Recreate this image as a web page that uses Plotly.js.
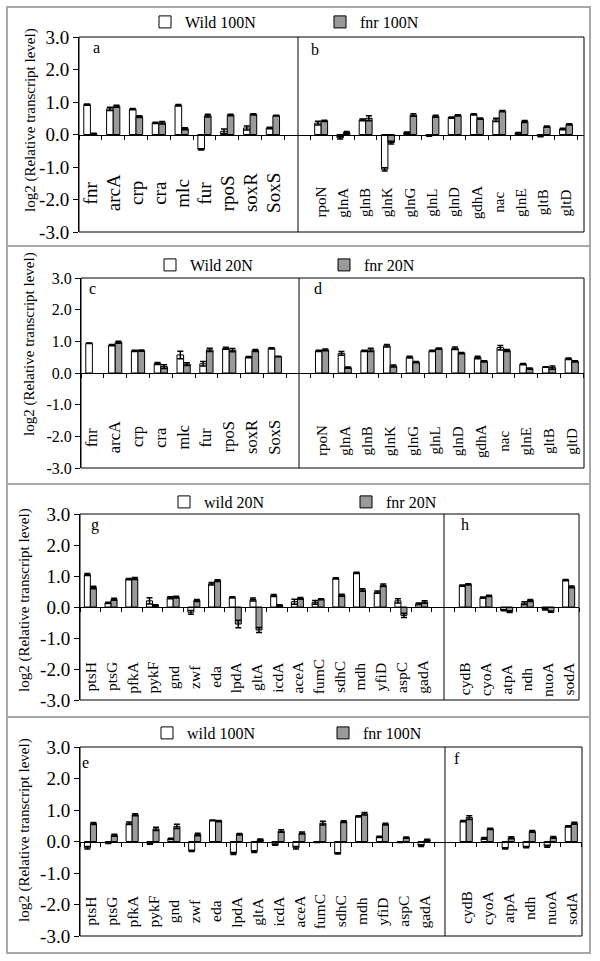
<!DOCTYPE html>
<html>
<head>
<meta charset="utf-8">
<script src="https://cdn.plot.ly/plotly-3.0.1.min.js"></script>
<style>html,body{margin:0;padding:0;background:#fff;}#chart{width:600px;height:961px;}</style>
</head>
<body>
<div id="chart"></div>
<script>
// ---------- categories ----------
const catsReg = ['fnr','arcA','crp','cra','mlc','fur','rpoS','soxR','SoxS'];
const catsN = ['rpoN','glnA','glnB','glnK','glnG','glnL','glnD','gdhA','nac','glnE','gltB','gltD'];
const catsMet = ['ptsH','ptsG','pfkA','pykF','gnd','zwf','eda','lpdA','gltA','icdA','aceA','fumC','sdhC','mdh','yfiD','aspC','gadA'];
const catsResp = ['cydB','cyoA','atpA','ndh','nuoA','sodA'];

// ---------- panel a (100N, regulators) ----------
const aWild100 = [0.92, 0.79, 0.78, 0.36, 0.90, -0.46, 0.10, 0.20, 0.20];
const aWild100Err = [0.02, 0.05, 0.02, 0.02, 0.02, 0.02, 0.07, 0.06, 0.02];
const aFnr100 = [0.02, 0.87, 0.55, 0.36, 0.18, 0.58, 0.60, 0.62, 0.58];
const aFnr100Err = [0.02, 0.03, 0.03, 0.04, 0.03, 0.04, 0.02, 0.02, 0.01];
// ---------- panel b (100N, nitrogen) ----------
const bWild100 = [0.35, -0.10, 0.45, -1.07, 0.06, -0.03, 0.52, 0.62, 0.45, 0.04, -0.05, 0.17];
const bWild100Err = [0.06, 0.04, 0.03, 0.05, 0.02, 0.02, 0.02, 0.02, 0.05, 0.02, 0.02, 0.02];
const bFnr100 = [0.42, 0.06, 0.50, -0.25, 0.60, 0.56, 0.59, 0.49, 0.72, 0.40, 0.24, 0.31];
const bFnr100Err = [0.02, 0.03, 0.08, 0.04, 0.04, 0.03, 0.02, 0.02, 0.02, 0.03, 0.02, 0.02];
// ---------- panel c (20N, regulators) ----------
const cWild20 = [0.94, 0.88, 0.70, 0.30, 0.57, 0.29, 0.78, 0.50, 0.78];
const cWild20Err = [0.01, 0.02, 0.02, 0.03, 0.12, 0.07, 0.03, 0.02, 0.02];
const cFnr20 = [null, 0.97, 0.71, 0.20, 0.28, 0.73, 0.72, 0.71, 0.52];
const cFnr20Err = [0, 0.03, 0.02, 0.06, 0.04, 0.05, 0.05, 0.03, 0.01];
// ---------- panel d (20N, nitrogen) ----------
const dWild20 = [0.70, 0.62, 0.70, 0.86, 0.50, 0.70, 0.78, 0.49, 0.80, 0.28, 0.19, 0.45];
const dWild20Err = [0.02, 0.06, 0.02, 0.04, 0.03, 0.02, 0.04, 0.04, 0.07, 0.02, 0.01, 0.02];
const dFnr20 = [0.73, 0.17, 0.73, 0.22, 0.34, 0.77, 0.63, 0.37, 0.71, 0.14, 0.17, 0.37];
const dFnr20Err = [0.03, 0.02, 0.05, 0.03, 0.02, 0.02, 0.02, 0.02, 0.03, 0.02, 0.05, 0.02];
// ---------- panel g (20N, central metabolism) ----------
const gWild20 = [1.05, 0.13, 0.90, 0.20, 0.30, -0.17, 0.75, 0.31, 0.24, 0.37, 0.17, 0.15, 0.92, 1.10, 0.48, 0.20, 0.10];
const gWild20Err = [0.03, 0.02, 0.02, 0.10, 0.03, 0.06, 0.04, 0.02, 0.05, 0.03, 0.08, 0.06, 0.02, 0.02, 0.04, 0.07, 0.03];
const gFnr20 = [0.63, 0.25, 0.92, 0.05, 0.32, 0.21, 0.85, -0.55, -0.74, 0.05, 0.28, 0.25, 0.38, 0.55, 0.70, -0.27, 0.16];
const gFnr20Err = [0.04, 0.03, 0.03, 0.02, 0.03, 0.03, 0.03, 0.12, 0.08, 0.02, 0.03, 0.02, 0.03, 0.04, 0.04, 0.07, 0.04];
// ---------- panel h (20N, respiration) ----------
const hWild20 = [0.69, 0.30, -0.10, 0.12, -0.07, 0.87];
const hWild20Err = [0.02, 0.02, 0.02, 0.05, 0.03, 0.02];
const hFnr20 = [0.73, 0.36, -0.15, 0.21, -0.15, 0.65];
const hFnr20Err = [0.02, 0.02, 0.03, 0.03, 0.02, 0.03];
// ---------- panel e (100N, central metabolism) ----------
const eWild100 = [-0.20, -0.05, 0.58, -0.07, 0.08, -0.30, 0.67, -0.38, -0.32, -0.10, -0.20, -0.02, -0.38, 0.80, 0.15, -0.02, -0.13];
const eWild100Err = [0.04, 0.01, 0.04, 0.02, 0.02, 0.02, 0.01, 0.03, 0.03, 0.02, 0.04, 0.01, 0.02, 0.02, 0.02, 0.01, 0.03];
const eFnr100 = [0.57, 0.20, 0.85, 0.40, 0.48, 0.22, 0.65, 0.23, 0.06, 0.33, 0.27, 0.58, 0.63, 0.88, 0.55, 0.12, 0.05];
const eFnr100Err = [0.03, 0.03, 0.03, 0.05, 0.07, 0.04, 0.02, 0.02, 0.02, 0.04, 0.03, 0.06, 0.03, 0.04, 0.03, 0.02, 0.02];
// ---------- panel f (100N, respiration) ----------
const fWild100 = [0.65, 0.10, -0.22, -0.18, -0.15, 0.48];
const fWild100Err = [0.02, 0.03, 0.02, 0.02, 0.03, 0.02];
const fFnr100 = [0.76, 0.40, 0.12, 0.32, 0.13, 0.58];
const fFnr100Err = [0.06, 0.02, 0.03, 0.03, 0.03, 0.03];

// ---------- tick labels ----------
const yTickVals = [-3, -2, -1, 0, 1, 2, 3];
const yTickText = ['-3.0', '-2.0', '-1.0', '0.0', '1.0', '2.0', '3.0'];
const yTitle = 'log2 (Relative transcript level)';

// ---------- layout geometry (pixels) ----------
const W = 600, H = 961;
const fx = p => p / W, fy = p => 1 - p / H;
const FONT = "'Liberation Serif', 'Times New Roman', serif";
const GRAY = '#9a9a9a';

const panels = [
  {wildName: 'Wild 100N', fnrName: 'fnr 100N', top: 37, bot: 232, xl: 79, xd: 298, xr: 584,
   legY: 22, legWText: 190, legFText: 365, titleX: 30, titleY: 120, tickSize: 19,
   subs: [
     {cats: catsReg, w: aWild100, we: aWild100Err, f: aFnr100, fe: aFnr100Err, range: [-0.5, 9.1], labY: -1.8, labSize: 19, letter: 'a', lx: 97, ly: 48},
     {cats: catsN, w: bWild100, we: bWild100Err, f: bFnr100, fe: bFnr100Err, range: [-1.04, 11.81], labY: -2.09, labSize: 15, letter: 'b', lx: 315, ly: 50}
   ]},
  {wildName: 'Wild 20N', fnrName: 'fnr 20N', top: 278, bot: 468, xl: 81, xd: 299, xr: 584,
   legY: 265, legWText: 195, legFText: 369, titleX: 30, titleY: 344, tickSize: 16,
   subs: [
     {cats: catsReg, w: cWild20, we: cWild20Err, f: cFnr20, fe: cFnr20Err, range: [-0.5, 9.06], labY: -2.02, labSize: 16.5, letter: 'c', lx: 92, ly: 288},
     {cats: catsN, w: dWild20, we: dWild20Err, f: dFnr20, fe: dFnr20Err, range: [-1.015, 11.54], labY: -2.15, labSize: 15, letter: 'd', lx: 318, ly: 288}
   ]},
  {wildName: 'wild 20N', fnrName: 'fnr 20N', top: 514, bot: 700, xl: 80, xd: 444, xr: 579,
   legY: 502, legWText: 209, legFText: 391, titleX: 24, titleY: 600, tickSize: 19,
   subs: [
     {cats: catsMet, w: gWild20, we: gWild20Err, f: gFnr20, fe: gFnr20Err, range: [-0.5, 17.08], labY: -2.26, labSize: 15.5, letter: 'g', lx: 95, ly: 525},
     {cats: catsResp, w: hWild20, we: hWild20Err, f: hFnr20, fe: hFnr20Err, range: [-1.03, 5.5], labY: -2.32, labSize: 15.5, letter: 'h', lx: 465, ly: 524}
   ]},
  {wildName: 'wild 100N', fnrName: 'fnr 100N', top: 747, bot: 936, xl: 80, xd: 445, xr: 582,
   legY: 733, legWText: 192, legFText: 368, titleX: 24, titleY: 830, tickSize: 19,
   subs: [
     {cats: catsMet, w: eWild100, we: eWild100Err, f: eFnr100, fe: eFnr100Err, range: [-0.5, 17.0], labY: -2.22, labSize: 15.5, letter: 'e', lx: 85, ly: 762},
     {cats: catsResp, w: fWild100, we: fWild100Err, f: fFnr100, fe: fFnr100Err, range: [-1.01, 5.51], labY: -2.1, labSize: 15.5, letter: 'f', lx: 457, ly: 758}
   ]}
];

const traces = [];
const layout = {
  width: W, height: H,
  margin: {l: 0, r: 0, t: 0, b: 0},
  paper_bgcolor: '#ffffff', plot_bgcolor: 'rgba(0,0,0,0)',
  font: {family: FONT, size: 15, color: '#000'},
  barmode: 'group', bargap: 0.42, bargroupgap: 0,
  showlegend: true,
  annotations: [], shapes: []
};

// outer gray frame and separators
layout.shapes.push({type: 'rect', xref: 'paper', yref: 'paper', x0: fx(7), x1: fx(590), y0: fy(953), y1: fy(7),
  line: {color: '#a8a8a8', width: 2}});
[246, 484, 717].forEach(s => layout.shapes.push({type: 'line', xref: 'paper', yref: 'paper',
  x0: fx(7), x1: fx(590), y0: fy(s), y1: fy(s), line: {color: '#a8a8a8', width: 2}}));

panels.forEach((p, i) => {
  const yi = i + 1;
  const yId = yi === 1 ? 'y' : 'y' + yi;
  const yKey = yi === 1 ? 'yaxis' : 'yaxis' + yi;
  const yDom = [fy(p.bot), fy(p.top)];
  const zeroPos = (yDom[0] + yDom[1]) / 2;
  const xDoms = [[fx(p.xl), fx(p.xd)], [fx(p.xd), fx(p.xr)]];
  const legW = 'legend' + (2 * i + 1 === 1 ? '' : (2 * i + 1));
  const legF = 'legend' + (2 * i + 2);

  p.subs.forEach((s, j) => {
    const xi = 2 * i + j + 1;
    const xId = xi === 1 ? 'x' : 'x' + xi;
    const xKey = xi === 1 ? 'xaxis' : 'xaxis' + xi;
    layout[xKey] = {
      domain: xDoms[j], range: s.range, type: 'category',
      categoryorder: 'array', categoryarray: s.cats,
      anchor: 'free', position: zeroPos,
      showline: true, linecolor: '#000', linewidth: 1,
      ticks: 'outside', tickson: 'boundaries', ticklen: 4, tickcolor: '#000', tickwidth: 1,
      showticklabels: false, showgrid: false, zeroline: false, fixedrange: true
    };
    traces.push({
      type: 'bar', x: s.cats, y: s.w, name: p.wildName, xaxis: xId, yaxis: yId,
      marker: {color: '#ffffff', line: {color: '#000', width: 1}},
      error_y: {type: 'data', array: s.we, visible: true, color: '#000', thickness: 1.5, width: 3},
      legend: legW, showlegend: j === 0, legendgroup: 'w' + i, cliponaxis: false
    });
    traces.push({
      type: 'bar', x: s.cats, y: s.f, name: p.fnrName, xaxis: xId, yaxis: yId,
      marker: {color: GRAY, line: {color: '#000', width: 1}},
      error_y: {type: 'data', array: s.fe, visible: true, color: '#000', thickness: 1.5, width: 3},
      legend: legF, showlegend: j === 0, legendgroup: 'f' + i, cliponaxis: false
    });
    // category labels (rotated)
    s.cats.forEach(c => layout.annotations.push({
      xref: xId, yref: yId, x: c, y: s.labY, text: c, textangle: -90,
      showarrow: false, xanchor: 'center', yanchor: 'middle', font: {family: FONT, size: s.labSize}
    }));
    // panel letter
    layout.annotations.push({xref: 'paper', yref: 'paper', x: fx(s.lx), y: fy(s.ly), text: s.letter,
      showarrow: false, xanchor: 'center', yanchor: 'middle', font: {family: FONT, size: 16}});
  });

  layout[yKey] = {
    domain: yDom, range: [-3, 3], anchor: i === 0 ? 'x' : 'x' + (2 * i + 1),
    tickmode: 'array', tickvals: yTickVals, ticktext: yTickText,
    ticks: 'outside', ticklen: 5, tickcolor: '#000', tickwidth: 1,
    showline: true, linecolor: '#000', linewidth: 1,
    showgrid: false, zeroline: false, fixedrange: true,
    tickfont: {family: FONT, size: p.tickSize}
  };
  // y title
  layout.annotations.push({xref: 'paper', yref: 'paper', x: fx(p.titleX), y: fy(p.titleY), text: yTitle,
    textangle: -90, showarrow: false, xanchor: 'center', yanchor: 'middle', font: {family: FONT, size: 15}});
  // plot frame and divider
  layout.shapes.push({type: 'rect', xref: 'paper', yref: 'paper', x0: fx(p.xl), x1: fx(p.xr), y0: yDom[0], y1: yDom[1],
    line: {color: '#000', width: 1}});
  layout.shapes.push({type: 'line', xref: 'paper', yref: 'paper', x0: fx(p.xd), x1: fx(p.xd), y0: yDom[0], y1: yDom[1],
    line: {color: '#000', width: 1}});
  // legends
  const legCommon = {orientation: 'v', xanchor: 'left', yanchor: 'middle', bgcolor: 'rgba(0,0,0,0)',
    borderwidth: 0, font: {family: FONT, size: 16}, itemclick: false, itemdoubleclick: false, tracegroupgap: 0};
  layout[legW] = Object.assign({}, legCommon, {x: fx(p.legWText - 45), y: fy(p.legY)});
  layout[legF] = Object.assign({}, legCommon, {x: fx(p.legFText - 45), y: fy(p.legY)});
});

Plotly.newPlot('chart', traces, layout, {staticPlot: true, displayModeBar: false});
</script>
</body>
</html>
